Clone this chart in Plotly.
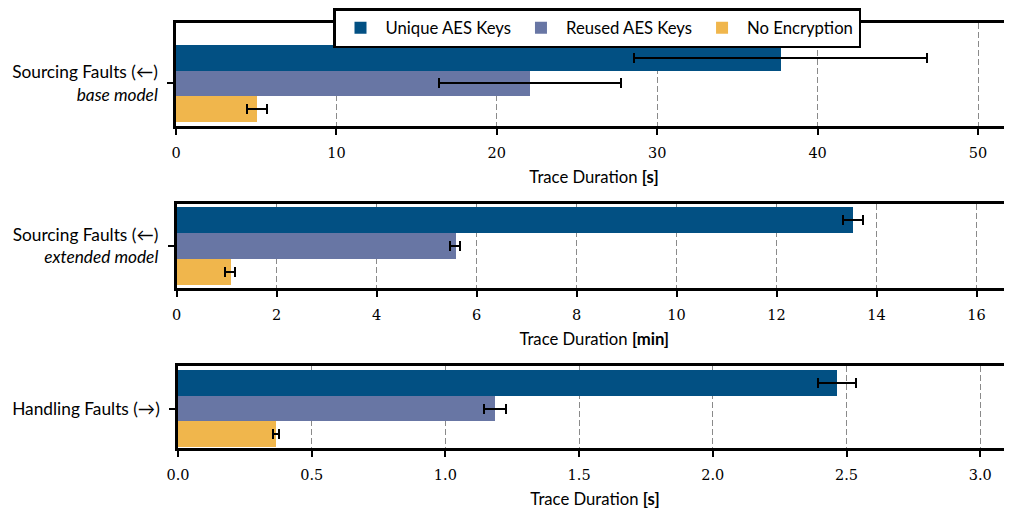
import plotly.graph_objects as go

series = ["Unique AES Keys", "Reused AES Keys", "No Encryption"]
colors = ["#025083", "#6876A4", "#F0B64C"]

cat1 = ["Sourcing Faults (←)<br><i>base model</i>"]
cat2 = ["Sourcing Faults (←)<br><i>extended model</i>"]
cat3 = ["Handling Faults (→)"]

# panel 1: seconds
vals1 = [37.7, 22.05, 5.05]
errs1 = [9.15, 5.67, 0.65]
# panel 2: minutes
vals2 = [13.52, 5.57, 1.07]
errs2 = [0.2, 0.1, 0.1]
# panel 3: seconds
vals3 = [2.465, 1.186, 0.367]
errs3 = [0.07, 0.04, 0.012]

xtitles = ["Trace Duration <b>[s]</b>", "Trace Duration <b>[min]</b>", "Trace Duration <b>[s]</b>"]
xticks1 = [0, 10, 20, 30, 40, 50]
xticks2 = [0, 2, 4, 6, 8, 10, 12, 14, 16]
xticks3 = [0.0, 0.5, 1.0, 1.5, 2.0, 2.5, 3.0]
xticktext3 = ["0.0", "0.5", "1.0", "1.5", "2.0", "2.5", "3.0"]

# page body has an 8px margin -> figure is drawn offset by (8, 8)
OFF = 8
W = 1012 - OFF
H = 509 - OFF
sans = "Lato"
serif = "DejaVu Serif"
FS = 16.7

fig = go.Figure()

panels = [
    (cat1, vals1, errs1, "x", "y"),
    (cat2, vals2, errs2, "x2", "y2"),
    (cat3, vals3, errs3, "x3", "y3"),
]

for p, (cat, vals, errs, xa, ya) in enumerate(panels):
    # add in reverse so that Unique is on top
    for i in [2, 1, 0]:
        fig.add_trace(go.Bar(
            y=cat, x=[vals[i]], orientation="h",
            name=series[i], marker=dict(color=colors[i], line=dict(width=0)),
            error_x=dict(type="data", array=[errs[i]], color="black", thickness=2, width=5),
            xaxis=xa, yaxis=ya, showlegend=(p == 0), legendgroup=series[i],
        ))

def ydom(top_px, bot_px):
    return [1 - (bot_px - OFF) / H, 1 - (top_px - OFF) / H]

ydoms = [ydom(23, 126), ydom(204, 288), ydom(366, 448)]
lefts = [176, 176.5, 178]
xdoms = [[(l - OFF) / W, 1] for l in lefts]
pxper = [16.04, 50.0, 267.4]
xranges = [[0, (1012 - l) / s] for l, s in zip(lefts, pxper)]
yranges = [[-0.552, 0.784], [-0.538, 0.538], [-0.513, 0.552]]
tickvals = [xticks1, xticks2, xticks3]
ticktexts = [[str(v) for v in xticks1], [str(v) for v in xticks2], xticktext3]

layout = dict(
    width=W, height=H,
    margin=dict(l=0, r=0, t=0, b=0, autoexpand=False),
    plot_bgcolor="white", paper_bgcolor="white",
    barmode="group", bargap=0, bargroupgap=0,
    font=dict(family=sans, size=FS, color="black"),
    legend=dict(
        orientation="h", x=(597 - OFF) / W, xanchor="center", y=1.0, yanchor="top",
        bordercolor="black", borderwidth=2.5, bgcolor="white",
        traceorder="reversed", font=dict(family=sans, size=FS),
        itemwidth=40, tracegroupgap=0,
    ),
)

for k in range(3):
    sx = "xaxis" if k == 0 else f"xaxis{k+1}"
    sy = "yaxis" if k == 0 else f"yaxis{k+1}"
    anchor_y = "y" if k == 0 else f"y{k+1}"
    anchor_x = "x" if k == 0 else f"x{k+1}"
    layout[sx] = dict(
        domain=xdoms[k], anchor=anchor_y, range=xranges[k], automargin=False,
        tickvals=tickvals[k], ticktext=ticktexts[k],
        showline=True, linecolor="black", linewidth=2.5, mirror=True,
        ticks="outside", ticklen=6, tickwidth=2, tickcolor="black",
        ticklabelstandoff=6,
        showgrid=True, gridcolor="#8a8a8a", gridwidth=1.2, griddash="6px,3px",
        zeroline=False,
        tickfont=dict(family=serif, size=14.5),
        title=dict(text=xtitles[k], font=dict(family=sans, size=FS), standoff=12),
    )
    layout[sy] = dict(
        domain=ydoms[k], anchor=anchor_x, range=yranges[k], type="category",
        automargin=False,
        showline=True, linecolor="black", linewidth=2.5, mirror=False,
        ticks="outside", ticklen=6, tickwidth=2, tickcolor="black",
        ticklabelstandoff=6,
        showgrid=False, zeroline=False,
        tickfont=dict(family=sans, size=17.3),
    )

fig.update_layout(**layout)
fig.write_html("out.html")
